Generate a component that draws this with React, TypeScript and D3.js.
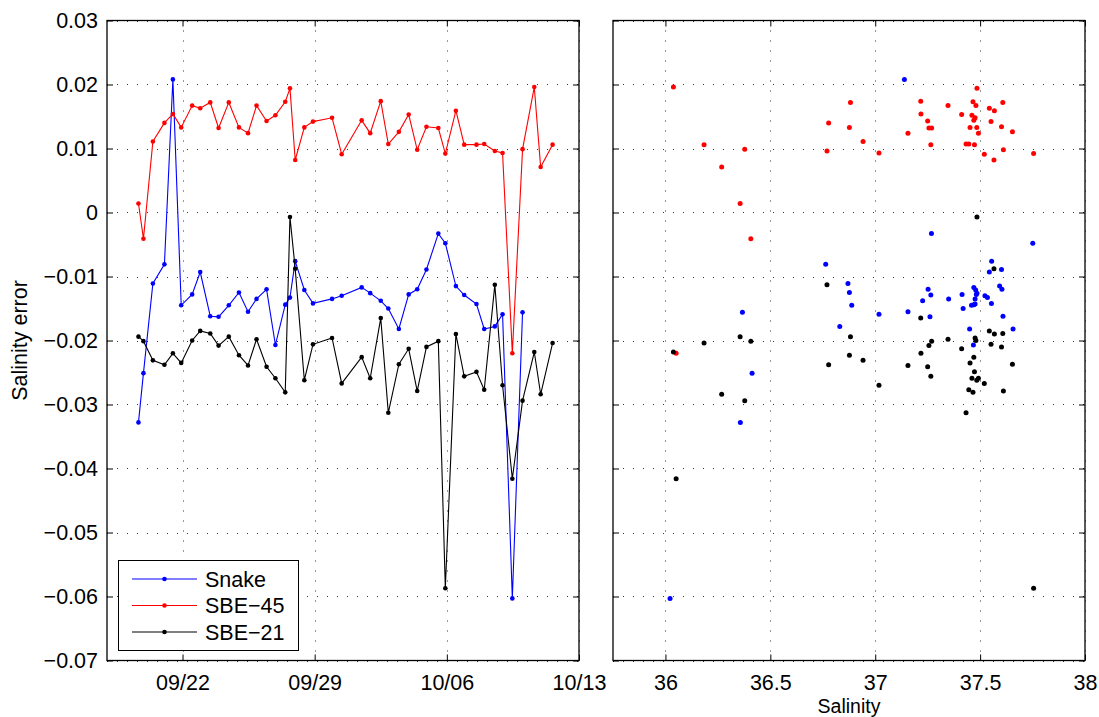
import React, { useEffect, useRef } from 'react';
import * as d3 from 'd3';

// cast times (shared by all three instruments)
const times = [
  '2013-09-19 16:00', '2013-09-19 22:20', '2013-09-20 10:20', '2013-09-21 01:00',
  '2013-09-21 11:45', '2013-09-21 22:20', '2013-09-22 12:15', '2013-09-22 22:30',
  '2013-09-23 11:15', '2013-09-23 21:50', '2013-09-24 10:50', '2013-09-24 23:45',
  '2013-09-25 11:15', '2013-09-25 22:05', '2013-09-26 10:50', '2013-09-26 22:05',
  '2013-09-27 10:35', '2013-09-27 16:35', '2013-09-27 23:15', '2013-09-28 10:50',
  '2013-09-28 21:50', '2013-09-29 22:05', '2013-09-30 10:20', '2013-10-01 11:45',
  '2013-10-01 22:35', '2013-10-02 12:00', '2013-10-02 21:35', '2013-10-03 11:00',
  '2013-10-03 23:30', '2013-10-04 10:20', '2013-10-04 22:05', '2013-10-05 13:10',
  '2013-10-05 22:05', '2013-10-06 11:30', '2013-10-06 22:05', '2013-10-07 13:40',
  '2013-10-07 23:30', '2013-10-08 13:00', '2013-10-08 22:50', '2013-10-09 11:15',
  '2013-10-10 00:15', '2013-10-10 15:10', '2013-10-10 23:15', '2013-10-11 14:25',
];

const snakeErr = [
  -0.0328, -0.0251, -0.0111, -0.0081, 0.0208, -0.0145, -0.0128, -0.0093,
  -0.0162, -0.0163, -0.0145, -0.0125, -0.0155, -0.0135, -0.0120, -0.0207,
  -0.0144, -0.0133, -0.0076, -0.0121, -0.0142, -0.0135, -0.0130, -0.0117,
  -0.0126, -0.0138, -0.0150, -0.0182, -0.0128, -0.0120, -0.0089, -0.0033,
  -0.0048, -0.0115, -0.0129, -0.0143, -0.0182, -0.0178, -0.0159, -0.0603,
  -0.0156,
];

const sbe45Err = [
  0.0014, -0.0041, 0.0111, 0.0140, 0.0154, 0.0133, 0.0167, 0.0163,
  0.0172, 0.0132, 0.0172, 0.0133, 0.0124, 0.0167, 0.0143, 0.0152,
  0.0173, 0.0194, 0.0082, 0.0133, 0.0142, 0.0148, 0.0091, 0.0144,
  0.0124, 0.0174, 0.0107, 0.0126, 0.0153, 0.0098, 0.0134, 0.0132,
  0.0092, 0.0159, 0.0106, 0.0106, 0.0107, 0.0096, 0.0093, -0.0220,
  0.0099, 0.0196, 0.0071, 0.0106,
];

const sbe21Err = [
  -0.0194, -0.0201, -0.0231, -0.0238, -0.0220, -0.0235, -0.0200, -0.0185,
  -0.0189, -0.0208, -0.0194, -0.0223, -0.0239, -0.0198, -0.0241, -0.0259,
  -0.0281, -0.0007, -0.0088, -0.0262, -0.0206, -0.0196, -0.0267, -0.0226,
  -0.0259, -0.0165, -0.0313, -0.0237, -0.0213, -0.0279, -0.0210, -0.0201,
  -0.0587, -0.0190, -0.0256, -0.0249, -0.0277, -0.0113, -0.0270, -0.0416,
  -0.0294, -0.0218, -0.0284, -0.0204,
];

// reference salinity at each cast (SBE-45 and SBE-21 panels)
const salinityCTD = [
  36.356, 36.407, 36.942, 36.778, 37.218, 37.452, 37.480, 37.544,
  37.608, 37.256, 36.882, 36.877, 37.156, 37.347, 37.250, 37.461,
  37.466, 37.485, 37.566, 37.484, 37.552, 37.476, 37.520, 37.470,
  37.492, 37.217, 37.433, 37.654, 37.412, 37.611, 37.602, 37.269,
  37.755, 37.568, 37.265, 37.473, 37.446, 36.770, 37.018, 36.051,
  36.378, 36.038, 36.268, 36.184,
];

// salinity used for the Snake points
const salinitySnake = [
  36.357, 36.413, 36.870, 36.764, 37.139, 37.459, 37.482, 37.544,
  37.609, 37.261, 36.888, 36.877, 37.156, 37.350, 37.252, 37.468,
  37.470, 37.535, 37.555, 37.479, 37.554, 37.476, 37.523, 37.470,
  37.485, 37.226, 37.419, 37.657, 37.414, 37.604, 37.602, 37.268,
  37.751, 37.593, 37.265, 37.476, 37.450, 36.831, 37.018, 36.022,
  36.367,
];

const seriesNames = ['Snake', 'SBE\u221245', 'SBE\u221221'];
const seriesColors = ['#0000ff', '#ff0000', '#000000'];

const dateDomain = ['2013-09-18', '2013-10-13'];
const dateTicks = ['2013-09-22', '2013-09-29', '2013-10-06', '2013-10-13'];
const salinityDomain = [35.75, 38];
const salinityTicks = [36, 36.5, 37, 37.5, 38];
const errorTicks = [0.03, 0.02, 0.01, 0, -0.01, -0.02, -0.03, -0.04, -0.05, -0.06, -0.07];

const FONT = '"Liberation Sans", Helvetica, Arial, sans-serif';
const FS = 21.5;

const App: React.FC = () => {
  const svgRef = useRef<SVGSVGElement>(null);

  useEffect(() => {
    if (!svgRef.current) return;
    const svg = d3.select(svgRef.current);
    svg.selectAll('*').remove();

    const parseTime = d3.timeParse('%Y-%m-%d %H:%M');
    const parseDay = d3.timeParse('%Y-%m-%d');
    const t = times.map((s) => parseTime(s) as Date);

    const top = 20.5;
    const bottom = 660.5;
    const left1 = 107, right1 = 579;
    const left2 = 613, right2 = 1085;

    const y = d3.scaleLinear().domain([-0.07, 0.03]).range([bottom, top]);
    const xt = d3.scaleTime()
      .domain(dateDomain.map((d) => parseDay(d) as Date))
      .range([left1, right1]);
    const xs = d3.scaleLinear().domain(salinityDomain).range([left2, right2]);

    const fmtErr = (v: number) => (Math.abs(v) < 1e-9 ? '0' : d3.format('.2f')(v));

    const drawFrame = (x: any, x0: number, x1: number, xTickVals: any[], xFmt: (d: any) => string, yLabels: boolean) => {
      const g = svg.append('g');
      g.append('rect').attr('x', x0).attr('y', top).attr('width', x1 - x0).attr('height', bottom - top).attr('fill', '#fff');

      // dotted grid
      g.selectAll('line.hgrid')
        .data(errorTicks)
        .join('line')
        .attr('x1', x0).attr('x2', x1)
        .attr('y1', (d) => Math.round(y(d)) + 0.5).attr('y2', (d) => Math.round(y(d)) + 0.5)
        .attr('stroke', '#333').attr('stroke-width', 1).attr('stroke-dasharray', '1,9');
      g.selectAll('line.vgrid')
        .data(xTickVals)
        .join('line')
        .attr('x1', (d) => Math.round(x(d)) + 0.5).attr('x2', (d) => Math.round(x(d)) + 0.5)
        .attr('y1', top).attr('y2', bottom)
        .attr('stroke', '#333').attr('stroke-width', 1).attr('stroke-dasharray', '1,9');

      const styleAxis = (a: any) => {
        a.select('.domain').remove();
        a.selectAll('.tick line').attr('stroke', '#000').attr('stroke-width', 1);
        a.selectAll('text').attr('font-family', FONT).attr('font-size', FS).attr('fill', '#000');
      };

      g.append('g').attr('transform', `translate(${x0},0)`)
        .call(d3.axisLeft(y).tickValues(errorTicks).tickSize(-6).tickPadding(9)
          .tickFormat((d: any) => (yLabels ? fmtErr(d) : '')))
        .call(styleAxis);
      g.append('g').attr('transform', `translate(${x1},0)`)
        .call(d3.axisRight(y).tickValues(errorTicks).tickSize(-6).tickFormat(() => ''))
        .call(styleAxis);
      g.append('g').attr('transform', `translate(0,${bottom})`)
        .call(d3.axisBottom(x).tickValues(xTickVals).tickSize(-6).tickPadding(14.5).tickFormat(xFmt))
        .call(styleAxis);
      g.append('g').attr('transform', `translate(0,${top})`)
        .call(d3.axisTop(x).tickValues(xTickVals).tickSize(-6).tickFormat(() => ''))
        .call(styleAxis);

      return g;
    };

    const drawBorder = (x0: number, x1: number) => {
      svg.append('rect')
        .attr('x', x0).attr('y', top).attr('width', x1 - x0).attr('height', bottom - top)
        .attr('fill', 'none').attr('stroke', '#000').attr('stroke-width', 1.3);
    };

    // ---- left panel: time series
    drawFrame(xt, left1, right1, dateTicks.map((d) => parseDay(d) as Date), d3.timeFormat('%m/%d') as any, true);

    const errs = [snakeErr, sbe45Err, sbe21Err];
    const line = d3.line<[Date, number]>().x((d) => xt(d[0])).y((d) => y(d[1]));
    errs.forEach((vals, k) => {
      const pts = vals.map((v, i) => [t[i], v] as [Date, number]);
      const g = svg.append('g');
      g.append('path').datum(pts).attr('d', line).attr('fill', 'none')
        .attr('stroke', seriesColors[k]).attr('stroke-width', 1.1);
      g.selectAll('circle').data(pts).join('circle')
        .attr('cx', (d) => xt(d[0])).attr('cy', (d) => y(d[1])).attr('r', 2.3)
        .attr('fill', seriesColors[k]);
    });
    drawBorder(left1, right1);

    // legend
    const lg = svg.append('g');
    lg.append('rect').attr('x', 118.5).attr('y', 560.5).attr('width', 180).attr('height', 90)
      .attr('fill', '#fff').attr('stroke', '#000').attr('stroke-width', 1);
    seriesNames.forEach((name, k) => {
      const ly = 579 + k * 26.5;
      lg.append('line').attr('x1', 132).attr('x2', 197).attr('y1', ly).attr('y2', ly)
        .attr('stroke', seriesColors[k]).attr('stroke-width', 1.1);
      lg.append('circle').attr('cx', 164.5).attr('cy', ly).attr('r', 2.3).attr('fill', seriesColors[k]);
      lg.append('text').attr('x', 205).attr('y', ly).attr('dy', '0.35em')
        .attr('font-family', FONT).attr('font-size', FS).text(name);
    });

    // y label
    svg.append('text')
      .attr('transform', `translate(27,${(top + bottom) / 2}) rotate(-90)`)
      .attr('text-anchor', 'middle')
      .attr('font-family', FONT).attr('font-size', FS)
      .text('Salinity error');

    // ---- right panel: error vs salinity
    drawFrame(xs, left2, right2, salinityTicks, (d: any) => String(d), false);
    const sal = [salinitySnake, salinityCTD, salinityCTD];
    errs.forEach((vals, k) => {
      svg.append('g').selectAll('circle')
        .data(vals.map((v, i) => [sal[k][i], v]))
        .join('circle')
        .attr('cx', (d) => xs(d[0])).attr('cy', (d) => y(d[1])).attr('r', 2.5)
        .attr('fill', seriesColors[k]);
    });
    drawBorder(left2, right2);

    svg.append('text')
      .attr('x', (left2 + right2) / 2).attr('y', 712.9)
      .attr('text-anchor', 'middle')
      .attr('font-family', FONT).attr('font-size', 19.5)
      .text('Salinity');
  }, []);

  return (
    <svg
      ref={svgRef}
      width={1099}
      height={717}
      style={{ position: 'absolute', left: 0, top: 0, background: '#fff' }}
    />
  );
};

export default App;
